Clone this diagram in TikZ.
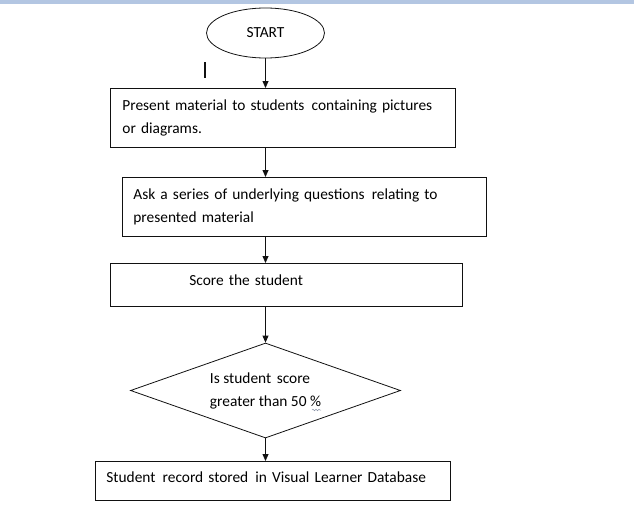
\documentclass[tikz,border=0pt]{standalone}
\usepackage{fontspec}
\setmainfont{Carlito}
\usepackage{tikz}
\usetikzlibrary{arrows.meta, shapes, positioning, calc, decorations.pathmorphing}
\definecolor{barblue}{HTML}{B3C6E2}
\definecolor{inkblack}{HTML}{111111}
\definecolor{squiggle}{HTML}{8A94A8}
\newcommand{\widegap}{\ \hspace{2pt}}

\tikzset{
  flowbox/.style={draw=inkblack, line width=0.8pt, rectangle, anchor=north west, align=left, inner ysep=0pt},
  flowarrow/.style={-{Triangle[length=7pt, width=6pt]}, draw=inkblack, line width=0.8pt},
  flowtext/.style={font=\fontsize{15.4}{23}\selectfont}
}

\begin{document}
\begin{tikzpicture}[x=1pt, y=-1pt, flowtext]
          \useasboundingbox (0,0) rectangle (634,514);
          % Barra superior
          \fill[barblue] (0,0) rectangle (634,4);
          % Inicio
          \node[draw=inkblack, line width=0.8pt, ellipse, minimum width=118pt, minimum height=50pt, inner sep=0pt] (start) at (265.5,33) {START};
          % Cursor
          \draw[line width=1.5pt, inkblack] (205,62) -- (205,78);
          % Caja 1
          \node[flowbox, minimum width=345pt, minimum height=59pt, text width=321pt, inner xsep=12pt] (present) at (110,88)
            {Present material to students\widegap containing pictures\\or diagrams.};
          % Caja 2
          \node[flowbox, minimum width=364pt, minimum height=59pt, text width=342pt, inner xsep=11pt] (ask) at (122,177)
            {Ask a series of underlying questions\widegap relating to\\presented material};
          % Caja 3
          \node[flowbox, minimum width=352pt, minimum height=43pt, text width=194pt, inner xsep=79pt, text height=11pt, text depth=9pt] (score) at (110,263)
            {Score the student};
          % Decision
          \node[draw=inkblack, line width=0.8pt, diamond, aspect=2.84, minimum width=270pt, minimum height=95pt, inner sep=0pt, align=left] (decide) at (265.5,390.5)
            {Is student\widegap score\\greater than 50 \%};
          % Subrayado ondulado
          \draw[squiggle, line width=0.5pt, decorate, decoration={snake, amplitude=0.8pt, segment length=3pt}] (312,410) -- (321,410);
          % Caja 4
          \node[flowbox, minimum width=355pt, minimum height=39pt, text width=333pt, inner xsep=11pt, text height=11pt, text depth=8pt] (store) at (95,461)
            {Student\widegap record stored\widegap in Visual Learner Database};
          % Flechas
          \draw[flowarrow] (start.south) -- (start.south |- present.north);
          \draw[flowarrow] (start.south |- present.south) -- (start.south |- ask.north);
          \draw[flowarrow] (start.south |- ask.south) -- (start.south |- score.north);
          \draw[flowarrow] (start.south |- score.south) -- (decide.north);
          \draw[flowarrow] (decide.south) -- (decide.south |- store.north);
        \end{tikzpicture}
\end{document}
